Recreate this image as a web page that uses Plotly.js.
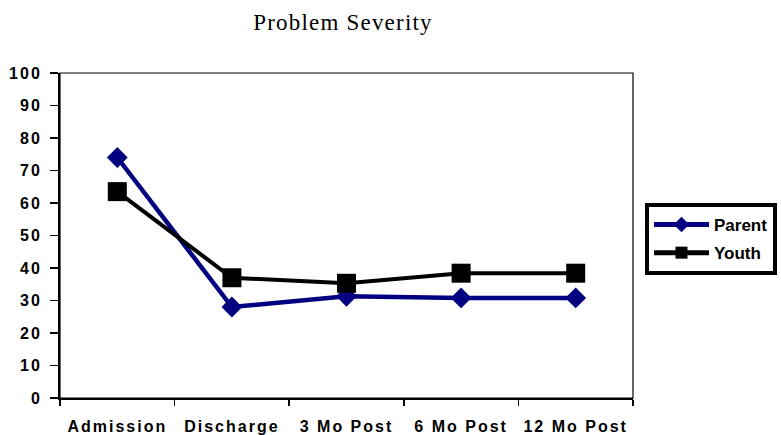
<!DOCTYPE html>
<html>
<head>
<meta charset="utf-8">
<script src="https://cdn.plot.ly/plotly-3.0.1.min.js"></script>
<style>
html,body{margin:0;padding:0;background:#fff;}
#chart{width:781px;height:435px;}
#chart .xtick text, #chart .ytick text{letter-spacing:2px;}
#chart .gtitle{letter-spacing:1.2px;}
</style>
</head>
<body>
<div id="chart"></div>
<script>
const categories = ["Admission", "Discharge", "3 Mo Post", "6 Mo Post", "12 Mo Post"];
const parentValues = [74, 28, 31.3, 30.8, 30.8];
const youthValues = [63.5, 37, 35.3, 38.4, 38.4];
const yTickValues = [0, 10, 20, 30, 40, 50, 60, 70, 80, 90, 100];

const tickFont = {family: "Liberation Sans, Arial, sans-serif", size: 16, color: "#000", weight: "bold"};

const traces = [
  {
    x: categories, y: parentValues, name: "Parent", type: "scatter", mode: "lines+markers",
    legendgroup: "a",
    line: {color: "#000080", width: 4.5},
    marker: {symbol: "diamond", size: 16, color: "#000080"}
  },
  {
    x: categories, y: youthValues, name: "Youth", type: "scatter", mode: "lines+markers",
    legendgroup: "b",
    line: {color: "#000000", width: 4},
    marker: {symbol: "square", size: 19, color: "#000000"}
  }
];

const layout = {
  width: 781, height: 435,
  paper_bgcolor: "#fff", plot_bgcolor: "#fff",
  margin: {l: 60, r: 148, t: 73, b: 37},
  title: {text: "Problem Severity", font: {family: "Liberation Serif, Times New Roman, serif", size: 23, color: "#000"},
          xref: "container", x: 343 / 781, xanchor: "center", yref: "container", y: 1 - 22 / 435, yanchor: "middle"},
  xaxis: {
    type: "category", range: [-0.5, 4.5], tickson: "boundaries",
    ticks: "outside", ticklen: 6, tickwidth: 1.5, tickcolor: "#000",
    showline: true, linecolor: "#000", linewidth: 2,
    showgrid: false, zeroline: false, ticklabelstandoff: 13,
    tickfont: tickFont
  },
  yaxis: {
    range: [0, 100], tickvals: yTickValues, ticktext: yTickValues.map(String),
    ticks: "outside", ticklen: 8, tickwidth: 1.5, tickcolor: "#000",
    showline: true, linecolor: "#000", linewidth: 2,
    showgrid: false, zeroline: false, ticklabelstandoff: 5,
    tickfont: tickFont
  },
  shapes: [
    {type: "rect", xref: "paper", yref: "paper", x0: 0, x1: 1, y0: 0, y1: 1, line: {color: "#000", width: 1.2}, layer: "below"}
  ],
  showlegend: true,
  legend: {
    xref: "container", yref: "container",
    x: 645 / 781, xanchor: "left", y: 1 - 203 / 435, yanchor: "top",
    bordercolor: "#000", borderwidth: 4, bgcolor: "#fff",
    font: {family: "Liberation Sans, Arial, sans-serif", size: 17, color: "#000", weight: "bold"},
    itemwidth: 55, tracegroupgap: 3, itemsizing: "constant"
  }
};

Plotly.newPlot("chart", traces, layout, {displayModeBar: false, staticPlot: true});
</script>
</body>
</html>
